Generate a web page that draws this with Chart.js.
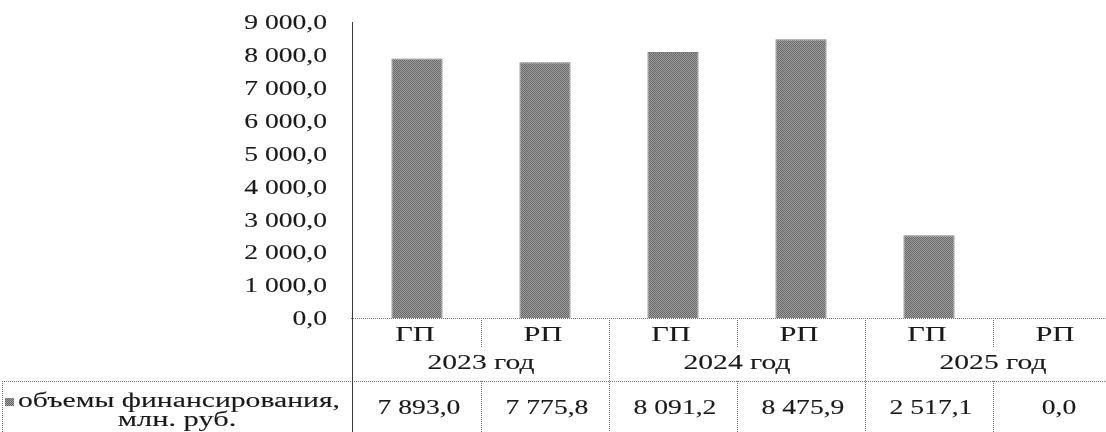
<!DOCTYPE html>
<html>
<head>
<meta charset="utf-8">
<script src="https://cdn.jsdelivr.net/npm/chart.js@4/dist/chart.umd.min.js"></script>
<style>
  html, body { margin: 0; padding: 0; background: #fff; overflow: hidden; }
  #wrap { position: absolute; left: 0; top: 0; width: 1121px; height: 432px; }
</style>
</head>
<body>
<div id="wrap"><canvas id="chart"></canvas></div>
<script>
const categories = ["ГП", "РП", "ГП", "РП", "ГП", "РП"];
const years = ["2023 год", "2024 год", "2025 год"];
const funding = [7893.0, 7775.8, 8091.2, 8475.9, 2517.1, 0.0];
const seriesLabel = ["объемы финансирования,", "млн. руб."];
const yMax = 9000;
const yStep = 1000;

const FONT = '20px "Liberation Serif", "Times New Roman", serif';
const SX_NUM = 1.38;  // scanned text looks stretched horizontally
const SX_WORD = 1.52;
const INK = "#1a1a1a";
const LINE = "#7a7a7a";

function fmt(v) {
  const parts = v.toFixed(1).split(".");
  const int = parts[0].replace(/\B(?=(\d{3})+(?!\d))/g, " ");
  return int + "," + parts[1];
}

function makePattern() {
  const c = document.createElement("canvas");
  c.width = 2; c.height = 2;
  const g = c.getContext("2d");
  g.fillStyle = "#9c9c9c"; g.fillRect(0, 0, 2, 2);
  g.fillStyle = "#6a6a6a"; g.fillRect(0, 0, 1, 1); g.fillRect(1, 1, 1, 1);
  return document.getElementById("chart").getContext("2d").createPattern(c, "repeat");
}
const barFill = makePattern();

function text(ctx, s, x, y, align, sx) {
  ctx.save();
  ctx.translate(x, y);
  ctx.scale(sx, 1);
  ctx.textAlign = align;
  ctx.textBaseline = "middle";
  ctx.fillText(s, 0, 0);
  ctx.strokeText(s, 0, 0);
  ctx.restore();
}

function vline(ctx, x, y1, y2) {
  ctx.beginPath();
  ctx.moveTo(Math.round(x) + 0.5, y1);
  ctx.lineTo(Math.round(x) + 0.5, y2);
  ctx.stroke();
}
function hline(ctx, x1, x2, y) {
  ctx.beginPath();
  ctx.moveTo(x1, Math.round(y) + 0.5);
  ctx.lineTo(x2, Math.round(y) + 0.5);
  ctx.stroke();
}

const tablePlugin = {
  id: "tablePlugin",
  afterDraw(chart) {
    const ctx = chart.ctx;
    const x = chart.scales.x;
    const y = chart.scales.y;
    const area = chart.chartArea;
    const bottom = chart.height;
    const rowLabels = area.bottom + 18;
    const rowYears = area.bottom + 46;
    const rowSplit = area.bottom + 30;
    const rowData = area.bottom + 63;
    const half = (x.getPixelForValue(1) - x.getPixelForValue(0)) / 2;

    ctx.save();
    ctx.fillStyle = INK;
    ctx.strokeStyle = INK;
    ctx.lineWidth = 0.12;
    ctx.font = FONT;

    // y tick labels
    y.ticks.forEach(t => {
      text(ctx, fmt(t.value), area.left - 26, y.getPixelForValue(t.value) + 2, "right", SX_NUM);
    });

    // category labels, years, values
    categories.forEach((c, i) => {
      const cx = x.getPixelForValue(i);
      text(ctx, c, cx - 2, rowLabels, "center", SX_WORD);
      text(ctx, fmt(funding[i]), cx + 2, area.bottom + 91, "center", SX_NUM);
    });
    years.forEach((yr, i) => {
      const cx = (x.getPixelForValue(2 * i) + x.getPixelForValue(2 * i + 1)) / 2;
      text(ctx, yr, cx, rowYears, "center", 1.48);
    });

    // legend cell
    ctx.fillStyle = barFill;
    ctx.fillRect(5, 398, 9, 8);
    ctx.fillStyle = INK;
    const w0 = ctx.measureText(seriesLabel[0]).width;
    text(ctx, seriesLabel[0], 179, 402, "center", 322 / w0);
    text(ctx, seriesLabel[1], 177, 421, "center", SX_WORD);

    // table grid
    ctx.strokeStyle = LINE;
    ctx.lineWidth = 1;
    ctx.setLineDash([1, 1]);
    hline(ctx, area.left - 2, area.right, area.bottom);
    hline(ctx, 2, area.right, rowData);
    vline(ctx, 2, rowData, bottom);
    for (let i = 1; i <= categories.length; i++) {
      const bx = x.getPixelForValue(i) - half;
      if (i % 2 === 0) {
        vline(ctx, bx, area.bottom, bottom);
      } else {
        vline(ctx, bx, area.bottom, rowSplit);
        vline(ctx, bx, rowData, bottom);
      }
    }
    ctx.setLineDash([]);
    ctx.strokeStyle = "#3a3a3a";
    vline(ctx, area.left - 1, area.top, bottom);
    ctx.restore();
  }
};

new Chart(document.getElementById("chart"), {
  type: "bar",
  data: {
    labels: categories,
    datasets: [{
      label: seriesLabel.join(" "),
      data: funding,
      backgroundColor: barFill,
      borderColor: "#7a7a7a",
      borderWidth: 1,
      categoryPercentage: 1,
      barPercentage: 0.4
    }]
  },
  options: {
    responsive: true,
    maintainAspectRatio: false,
    animation: false,
    layout: { padding: { top: 22, left: 0, right: 0, bottom: 0 } },
    plugins: {
      legend: { display: false },
      tooltip: { enabled: false }
    },
    scales: {
      x: {
        grid: { display: false },
        border: { display: false },
        ticks: { display: false },
        afterFit(scale) { scale.height = 114; }
      },
      y: {
        min: 0,
        max: yMax,
        ticks: { display: false, stepSize: yStep },
        grid: { display: false },
        border: { display: false },
        afterFit(scale) { scale.width = 353; }
      }
    }
  },
  plugins: [tablePlugin]
});
</script>
</body>
</html>
